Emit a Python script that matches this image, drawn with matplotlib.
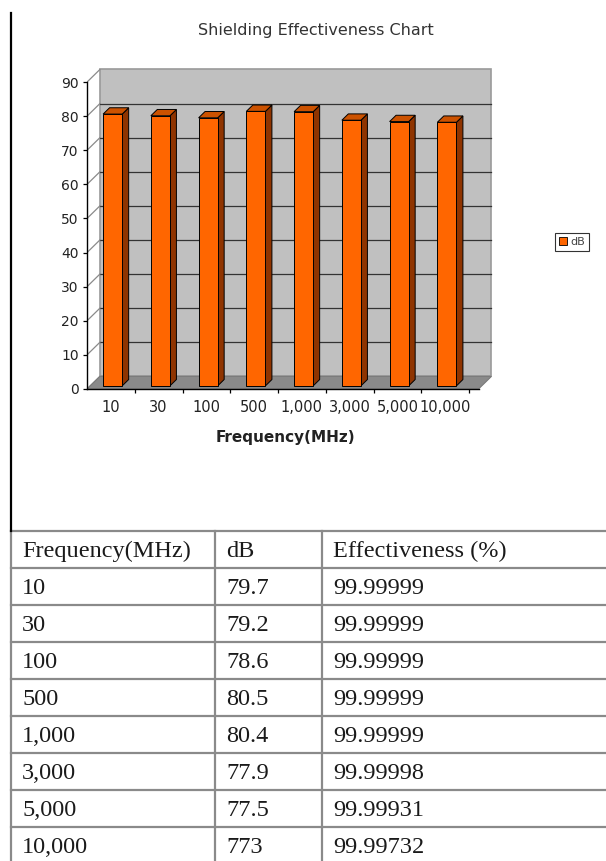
import matplotlib
matplotlib.use("Agg")
import matplotlib.pyplot as plt
from matplotlib.patches import Polygon, Patch
from matplotlib.lines import Line2D

# chart data
freq_labels = ['10', '30', '100', '500', '1,000', '3,000', '5,000', '10,000']
db_values = [79.7, 79.2, 78.6, 80.5, 80.4, 77.9, 77.5, 77.3]

# table data (as printed, including the "773" typo)
table_header = ['Frequency(MHz)', 'dB', 'Effectiveness (%)']
table_db = ['79.7', '79.2', '78.6', '80.5', '80.4', '77.9', '77.5', '773']
table_eff = ['99.99999', '99.99999', '99.99999', '99.99999', '99.99999',
             '99.99998', '99.99931', '99.99732']

W, H = 606, 861
fig = plt.figure(figsize=(W / 100, H / 100), dpi=100)
fig.patch.set_facecolor('white')

# pixel scale of the chart plot area
PX = 47.75      # px per category
PY = 3.41       # px per dB
X0, Y0 = 87, 389  # pixel position of data (0, 0)
XMAX, YMAX = 8.6, 95

ax = fig.add_axes([X0 / W, (H - Y0) / H, XMAX * PX / W, YMAX * PY / H])
ax.set_xlim(0, XMAX)
ax.set_ylim(0, YMAX)
ax.patch.set_visible(False)

XE = 8.2              # end of floor along category axis
dx, dy = 0.27, 3.7    # depth offset of the back wall
gray_wall = '#c0c0c0'

# side wall (white) and back wall
ax.add_patch(Polygon([(0, 0), (dx, dy), (dx, 90 + dy), (0, 90)],
                     closed=True, fc='white', ec='none', zorder=1))
ax.add_patch(Polygon([(dx, dy), (XE + dx, dy), (XE + dx, 90 + dy), (dx, 90 + dy)],
                     closed=True, fc=gray_wall, ec='#9a9a9a', lw=1.2, zorder=1))
# floor
ax.add_patch(Polygon([(0, 0), (XE, 0), (XE + dx, dy), (dx, dy)],
                     closed=True, fc='#8a8a8a', ec='#7a7a7a', lw=0.8, zorder=2))

# gridlines on back wall and side diagonals
for v in range(0, 91, 10):
    if 0 < v < 90:
        ax.plot([dx, XE + dx], [v + dy, v + dy], color='#333333', lw=0.9, zorder=1.5)
    ax.plot([0, dx], [v, v + dy], color='#8a8a8a', lw=0.9, zorder=1.5)

# 3D bars
w = 0.40
shift = -0.03
f, b = 0.25, 0.75
for i, v in enumerate(db_values):
    x0 = i + 0.5 - w / 2 + shift
    xf, yf = x0 + f * dx, f * dy
    xb, yb = x0 + b * dx, b * dy
    front = [(xf, yf), (xf + w, yf), (xf + w, v + yf), (xf, v + yf)]
    side = [(xf + w, yf), (xb + w, yb), (xb + w, v + yb), (xf + w, v + yf)]
    top = [(xf, v + yf), (xf + w, v + yf), (xb + w, v + yb), (xb, v + yb)]
    ax.add_patch(Polygon(side, closed=True, fc='#8f3400', ec='black', lw=0.7, zorder=3))
    ax.add_patch(Polygon(top, closed=True, fc='#cc5200', ec='black', lw=0.7, zorder=3))
    ax.add_patch(Polygon(front, closed=True, fc='#ff6600', ec='black', lw=0.7, zorder=4))

# axes lines and ticks
for s in ['top', 'right']:
    ax.spines[s].set_visible(False)
ax.spines['left'].set_bounds(0, 90)
ax.spines['bottom'].set_bounds(0, XE)
ax.spines['left'].set_linewidth(1.0)
ax.spines['bottom'].set_linewidth(1.0)
ax.set_yticks(range(0, 91, 10))
ax.tick_params(axis='y', length=3, width=0.9, direction='out', pad=3,
               labelsize=10, labelcolor='#222222')
ax.set_xticks([i + 0.5 for i in range(len(freq_labels))])
ax.set_xticklabels(freq_labels)
ax.set_xticks(range(1, 9), minor=True)
ax.tick_params(axis='x', which='major', length=0, pad=8, labelsize=10.5,
               labelcolor='#222222')
ax.tick_params(axis='x', which='minor', length=3, width=0.9, direction='out')
ax.set_xlabel('Frequency(MHz)', fontsize=11, fontweight='bold',
              color='#222222')
ax.xaxis.set_label_coords((285 - X0) / (XMAX * PX), -(430 - Y0) / (YMAX * PY))

fig.text(316 / W, 1 - 30 / H, 'Shielding Effectiveness Chart',
         ha='center', va='center', fontsize=11.5, color='#333333')

leg = fig.legend(handles=[Patch(fc='#ff6600', ec='black', lw=0.6, label='dB')],
                 loc='center', bbox_to_anchor=(572 / W, 1 - 242 / H),
                 fontsize=8, frameon=True, fancybox=False,
                 handlelength=0.7, handleheight=0.7, handletextpad=0.3,
                 borderpad=0.35, borderaxespad=0)
leg.get_frame().set_edgecolor('black')
leg.get_frame().set_linewidth(0.8)
for t in leg.get_texts():
    t.set_color('#444444')

# page border line on the left
fig.add_artist(Line2D([11 / W, 11 / W], [1 - 13 / H, 1 - 531 / H],
                      color='black', lw=1.6))

# table
ROW = 37
T0 = 531
nrows = len(table_db) + 1
tax = fig.add_axes([0, 0, 1, (H - T0) / H])
tax.set_xlim(0, W)
tax.set_ylim((H - T0) / ROW, 0)
tax.axis('off')
col_x = [11, 215, 322]
line_c = '#8a8a8a'
for r in range(nrows + 1):
    tax.plot([col_x[0], W], [r, r], color=line_c, lw=1.6, clip_on=False)
for cx in col_x:
    tax.plot([cx, cx], [0, (H - T0) / ROW], color=line_c, lw=1.6, clip_on=False)

rows = [table_header] + [[freq_labels[i], table_db[i], table_eff[i]]
                         for i in range(len(table_db))]
for r, row in enumerate(rows):
    for c, txt in enumerate(row):
        tax.text(col_x[c] + 11, r + 0.55, txt, ha='left', va='center',
                 fontsize=17.5, family='Liberation Serif', color='#1a1a1a')

fig.savefig('out.png', dpi=100)
